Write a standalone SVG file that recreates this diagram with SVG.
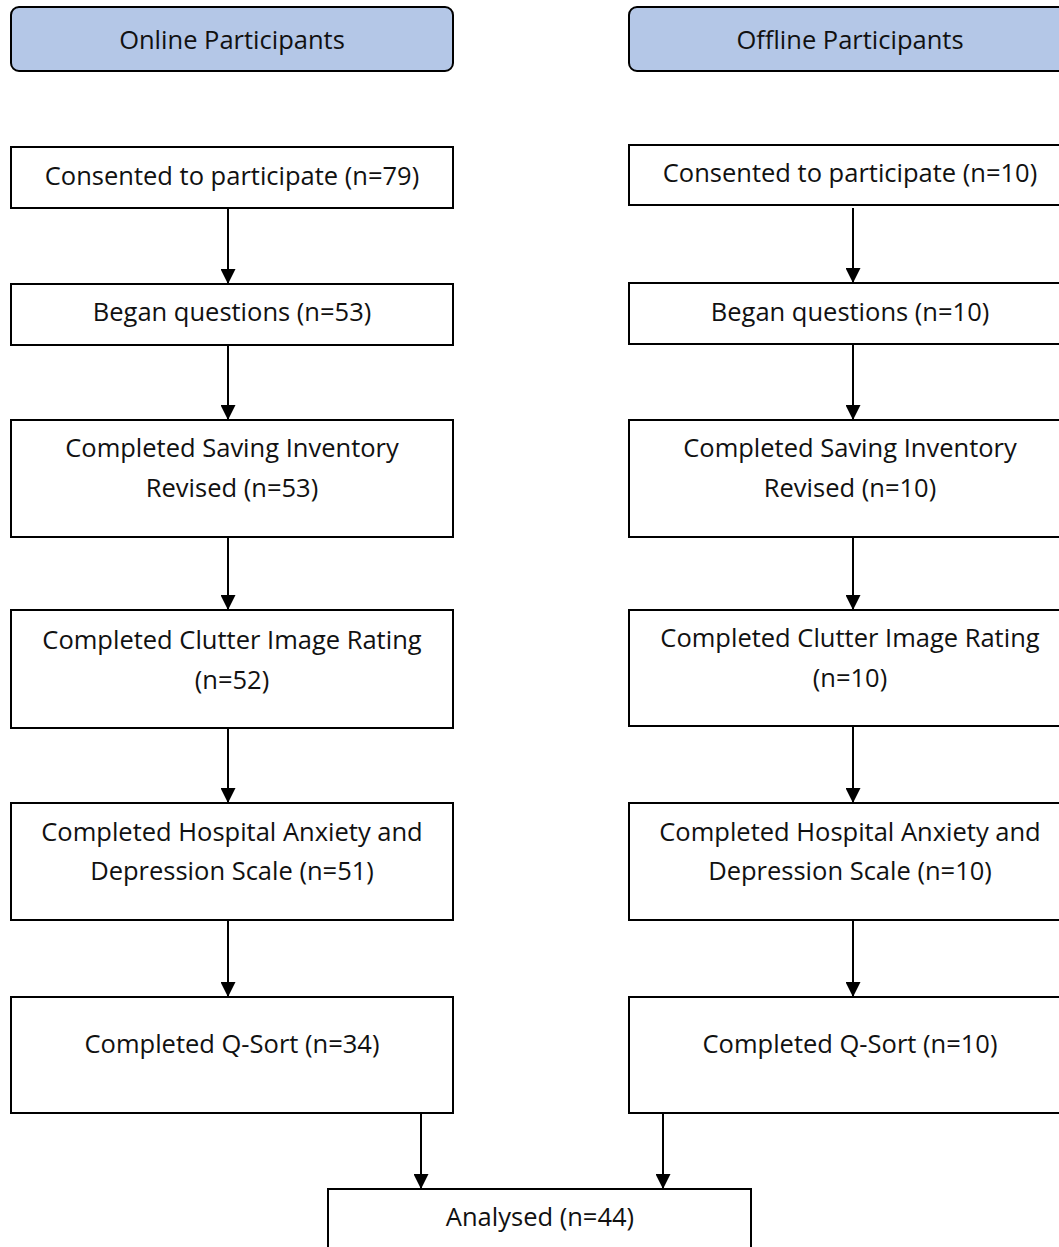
<svg xmlns="http://www.w3.org/2000/svg" width="1059" height="1247" viewBox="0 0 1059 1247">
<style>
.hdr{fill:#b4c7e7;stroke:#000;stroke-width:2}
.box{fill:#fff;stroke:#000;stroke-width:2}
text{font-family:"Open Sans","Liberation Sans",sans-serif;font-size:25.5px;fill:#111;text-anchor:middle}
.conn line{stroke:#000;stroke-width:2}
</style>
<defs>
<marker id="ah" markerWidth="15" markerHeight="15" refX="15" refY="7.5" orient="auto" markerUnits="userSpaceOnUse">
<path d="M0,0 L15,7.5 L0,15 z" fill="#000"/>
</marker>
</defs>
<g id="hdr-online"><rect class="hdr" x="11" y="7" width="442" height="64" rx="8"/><text x="232" y="49">Online Participants</text></g>
<g id="hdr-offline"><rect class="hdr" x="629" y="7" width="450" height="64" rx="8"/><text x="850" y="49">Offline Participants</text></g>

<g id="on1"><rect class="box" x="11" y="147" width="442" height="61"/><text x="232" y="185">Consented to participate (n=79)</text></g>
<g id="on2"><rect class="box" x="11" y="284" width="442" height="61"/><text x="232" y="321">Began questions (n=53)</text></g>
<g id="on3"><rect class="box" x="11" y="420" width="442" height="117"/><text x="232" y="457">Completed Saving Inventory</text><text x="232" y="497">Revised (n=53)</text></g>
<g id="on4"><rect class="box" x="11" y="610" width="442" height="118"/><text x="232" y="649">Completed Clutter Image Rating</text><text x="232" y="689">(n=52)</text></g>
<g id="on5"><rect class="box" x="11" y="803" width="442" height="117"/><text x="232" y="841">Completed Hospital Anxiety and</text><text x="232" y="880">Depression Scale (n=51)</text></g>
<g id="on6"><rect class="box" x="11" y="997" width="442" height="116"/><text x="232" y="1053">Completed Q-Sort (n=34)</text></g>

<g id="off1"><rect class="box" x="629" y="145" width="450" height="60"/><text x="850" y="182">Consented to participate (n=10)</text></g>
<g id="off2"><rect class="box" x="629" y="283" width="450" height="61"/><text x="850" y="321">Began questions (n=10)</text></g>
<g id="off3"><rect class="box" x="629" y="420" width="450" height="117"/><text x="850" y="457">Completed Saving Inventory</text><text x="850" y="497">Revised (n=10)</text></g>
<g id="off4"><rect class="box" x="629" y="610" width="450" height="116"/><text x="850" y="647">Completed Clutter Image Rating</text><text x="850" y="687">(n=10)</text></g>
<g id="off5"><rect class="box" x="629" y="803" width="450" height="117"/><text x="850" y="841">Completed Hospital Anxiety and</text><text x="850" y="880">Depression Scale (n=10)</text></g>
<g id="off6"><rect class="box" x="629" y="997" width="450" height="116"/><text x="850" y="1053">Completed Q-Sort (n=10)</text></g>

<g id="analysed"><rect class="box" x="328" y="1189" width="423" height="80"/><text x="540" y="1226">Analysed (n=44)</text></g>

<g id="connectors" class="conn">
<line x1="228" y1="208" x2="228" y2="284" marker-end="url(#ah)"/>
<line x1="228" y1="345" x2="228" y2="420" marker-end="url(#ah)"/>
<line x1="228" y1="537" x2="228" y2="610" marker-end="url(#ah)"/>
<line x1="228" y1="728" x2="228" y2="803" marker-end="url(#ah)"/>
<line x1="228" y1="920" x2="228" y2="997" marker-end="url(#ah)"/>
<line x1="853" y1="208" x2="853" y2="283" marker-end="url(#ah)"/>
<line x1="853" y1="344" x2="853" y2="420" marker-end="url(#ah)"/>
<line x1="853" y1="537" x2="853" y2="610" marker-end="url(#ah)"/>
<line x1="853" y1="726" x2="853" y2="803" marker-end="url(#ah)"/>
<line x1="853" y1="920" x2="853" y2="997" marker-end="url(#ah)"/>
<line x1="421" y1="1113" x2="421" y2="1189" marker-end="url(#ah)"/>
<line x1="663" y1="1113" x2="663" y2="1189" marker-end="url(#ah)"/>
</g>
</svg>
